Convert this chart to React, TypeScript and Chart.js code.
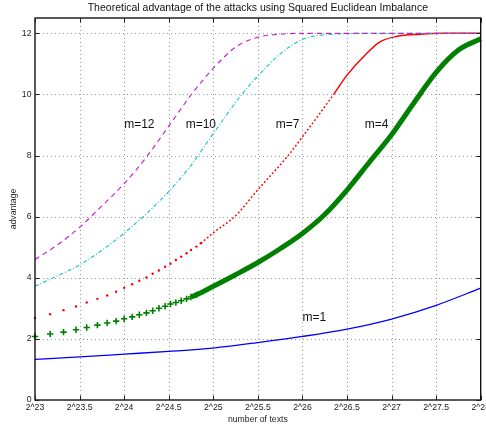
import React, { useEffect, useRef } from 'react';
import { Chart, registerables } from 'chart.js';

Chart.register(...registerables);

const titleText = 'Theoretical advantage of the attacks using Squared Euclidean Imbalance';
const xAxisTitle = 'number of texts';
const yAxisTitle = 'advantage';
const xTickValues = [23, 23.5, 24, 24.5, 25, 25.5, 26, 26.5, 27, 27.5, 28];
const yTickValues = [0, 2, 4, 6, 8, 10, 12];

// x values are log2(number of texts)
const m12X = [23.0, 23.25, 23.5, 23.75, 24.0, 24.25, 24.5, 24.75, 25.0, 25.25, 25.5, 25.75, 26.0, 27.0, 28.0];
const m12Y = [4.6, 5.07, 5.65, 6.35, 7.08, 7.95, 8.96, 9.98, 10.85, 11.55, 11.87, 11.97, 12.0, 12.0, 12.0];

const m10X = [23.0, 23.25, 23.5, 23.75, 24.0, 24.25, 24.5, 24.75, 25.0, 25.32, 25.5, 25.75, 26.0, 26.25, 26.5, 27.0, 28.0];
const m10Y = [3.72, 4.06, 4.42, 4.9, 5.46, 6.1, 6.82, 7.68, 8.72, 10.0, 10.6, 11.32, 11.8, 11.95, 11.99, 12.0, 12.0];

const m7X = [23.0, 23.17, 23.32, 23.46, 23.58, 23.7, 23.81, 23.91, 24.0, 24.09, 24.17, 24.25, 24.32, 24.39, 24.46, 24.52, 24.58, 24.64, 24.7, 24.75, 24.81, 24.86, 25.0, 25.24, 25.5, 25.84, 26.0, 26.35, 26.5, 26.72, 26.87, 27.06, 27.32, 27.6, 28.0];
const m7Y = [2.68, 2.81, 2.94, 3.06, 3.19, 3.31, 3.42, 3.54, 3.67, 3.79, 3.9, 4.01, 4.13, 4.24, 4.36, 4.46, 4.58, 4.69, 4.8, 4.91, 5.02, 5.13, 5.47, 6.0, 6.88, 8.0, 8.61, 10.0, 10.63, 11.34, 11.72, 11.9, 11.97, 12.0, 12.0];

const m4X = [23.0, 23.17, 23.32, 23.46, 23.58, 23.7, 23.81, 23.91, 24.0, 24.09, 24.17, 24.25, 24.32, 24.39, 24.46, 24.52, 24.58, 24.64, 24.7, 24.75, 24.81, 25.0, 25.25, 25.5, 25.75, 26.0, 26.25, 26.5, 26.75, 27.0, 27.25, 27.5, 27.75, 28.0];
const m4Y = [2.08, 2.16, 2.22, 2.3, 2.37, 2.45, 2.52, 2.58, 2.66, 2.72, 2.79, 2.85, 2.92, 3.0, 3.07, 3.14, 3.19, 3.25, 3.31, 3.37, 3.44, 3.72, 4.1, 4.5, 4.95, 5.45, 6.07, 6.87, 7.78, 8.68, 9.72, 10.72, 11.45, 11.82];

const m1X = [23.0, 23.5, 24.0, 24.5, 25.0, 25.5, 26.0, 26.5, 27.0, 27.5, 28.0];
const m1Y = [1.33, 1.41, 1.5, 1.59, 1.7, 1.88, 2.08, 2.32, 2.65, 3.1, 3.66];

const labelTexts = ['m=12', 'm=10', 'm=7', 'm=4', 'm=1'];
const labelX = [24.0, 24.69, 25.7, 26.7, 26.0];
const labelY = [9.0, 9.0, 9.0, 9.0, 2.68];

const FONT = "'Liberation Sans', Arial, Helvetica, sans-serif";
const M7_DOT_END = 24.87;
const M4_CROSS_END = 24.82;
const M4_BAND_START = 24.74;

const pts = (xs: number[], ys: number[]) => xs.map((x, i) => ({ x, y: ys[i] }));

const decor = {
  id: 'decor',
  beforeDatasetsDraw(chart: any) {
    const { ctx, chartArea: a, scales } = chart;
    ctx.save();
    ctx.strokeStyle = '#9a9a9a';
    ctx.lineWidth = 1;
    ctx.setLineDash([1, 3]);
    xTickValues.forEach((v) => {
      if (v === xTickValues[0] || v === xTickValues[xTickValues.length - 1]) return;
      const px = Math.round(scales.x.getPixelForValue(v)) + 0.5;
      ctx.beginPath();
      ctx.moveTo(px, a.top);
      ctx.lineTo(px, a.bottom);
      ctx.stroke();
    });
    yTickValues.forEach((v) => {
      if (v === 0) return;
      const py = Math.round(scales.y.getPixelForValue(v)) + 0.5;
      ctx.beginPath();
      ctx.moveTo(a.left, py);
      ctx.lineTo(a.right, py);
      ctx.stroke();
    });
    ctx.restore();
  },
  afterDatasetsDraw(chart: any) {
    const { ctx, chartArea: a, scales } = chart;
    ctx.save();
    ctx.setLineDash([]);
    ctx.strokeStyle = '#000';
    ctx.lineWidth = 1.3;
    ctx.strokeRect(a.left, a.top, a.right - a.left, a.bottom - a.top);
    ctx.lineWidth = 1;
    ctx.strokeStyle = '#222';
    const tl = 4.5;
    xTickValues.forEach((v) => {
      const px = Math.round(scales.x.getPixelForValue(v)) + 0.5;
      ctx.beginPath();
      ctx.moveTo(px, a.bottom);
      ctx.lineTo(px, a.bottom - tl);
      ctx.moveTo(px, a.top);
      ctx.lineTo(px, a.top + tl);
      ctx.stroke();
    });
    yTickValues.forEach((v) => {
      const py = Math.round(scales.y.getPixelForValue(v)) + 0.5;
      ctx.beginPath();
      ctx.moveTo(a.left, py);
      ctx.lineTo(a.left + tl, py);
      ctx.moveTo(a.right, py);
      ctx.lineTo(a.right - tl, py);
      ctx.stroke();
    });
    // curve labels
    ctx.fillStyle = '#111';
    ctx.font = `12px ${FONT}`;
    ctx.textAlign = 'left';
    ctx.textBaseline = 'middle';
    labelTexts.forEach((t, i) => {
      ctx.fillText(t, scales.x.getPixelForValue(labelX[i]), scales.y.getPixelForValue(labelY[i]));
    });
    // title
    ctx.font = `10.5px ${FONT}`;
    ctx.textAlign = 'center';
    ctx.fillText(titleText, (a.left + a.right) / 2, 8.5);
    ctx.restore();
  },
};

export default function App() {
  const ref = useRef<HTMLCanvasElement | null>(null);
  useEffect(() => {
    if (!ref.current) return;
    const chart = new Chart(ref.current, {
      type: 'line',
      data: {
        datasets: [
          {
            label: 'm=12',
            data: pts(m12X, m12Y),
            borderColor: '#cc22cc',
            borderWidth: 1.2,
            borderDash: [5, 4],
            pointRadius: 0,
            cubicInterpolationMode: 'monotone',
          },
          {
            label: 'm=10',
            data: pts(m10X, m10Y),
            borderColor: '#22c4c8',
            borderWidth: 1.2,
            borderDash: [4, 2, 1, 2],
            pointRadius: 0,
            cubicInterpolationMode: 'monotone',
          },
          {
            label: 'm=7',
            data: pts(m7X, m7Y),
            borderColor: '#ff0000',
            backgroundColor: '#ff0000',
            borderWidth: 1.5,
            clip: 4,
            pointRadius: (c: any) => (c.raw && c.raw.x <= M7_DOT_END ? 1.2 : 0),
            pointBorderWidth: 0,
            pointBackgroundColor: '#ff0000',
            cubicInterpolationMode: 'monotone',
            segment: {
              borderColor: (c: any) => (c.p0.parsed.x < M7_DOT_END - 0.02 ? 'rgba(0,0,0,0)' : '#ff0000'),
              borderDash: (c: any) => (c.p0.parsed.x >= 26.3 ? [] : [1.8, 2.2]),
            },
          },
          {
            label: 'm=4',
            data: pts(m4X, m4Y),
            borderColor: '#008000',
            backgroundColor: '#008000',
            borderWidth: 5,
            clip: 4,
            pointStyle: 'cross',
            pointRadius: (c: any) => (c.raw && c.raw.x <= M4_CROSS_END ? 3.2 : 0),
            pointBorderWidth: 1.6,
            pointBorderColor: '#008000',
            cubicInterpolationMode: 'monotone',
            segment: {
              borderColor: (c: any) => (c.p0.parsed.x < M4_BAND_START ? 'rgba(0,0,0,0)' : '#008000'),
            },
          },
          {
            label: 'm=1',
            data: pts(m1X, m1Y),
            borderColor: '#0000ff',
            borderWidth: 1.3,
            pointRadius: 0,
            cubicInterpolationMode: 'monotone',
          },
        ],
      },
      options: {
        animation: false,
        responsive: false,
        events: [],
        layout: { padding: { top: 18, right: 11, left: 0, bottom: 0 } },
        plugins: { legend: { display: false }, tooltip: { enabled: false }, title: { display: false } },
        scales: {
          x: {
            type: 'linear',
            min: 23,
            max: 28,
            grid: { display: false, drawTicks: false },
            border: { display: false },
            afterBuildTicks: (s: any) => {
              s.ticks = xTickValues.map((v) => ({ value: v }));
            },
            afterFit: (s: any) => {
              s.height = 25;
            },
            ticks: {
              autoSkip: false,
              maxRotation: 0,
              padding: 2,
              color: '#222',
              font: { family: FONT, size: 8.7 },
              callback: (v: any) => '2^' + v,
            },
            title: {
              display: true,
              text: xAxisTitle,
              color: '#222',
              font: { family: FONT, size: 8.7 },
              padding: { top: 0, bottom: 0 },
            },
          },
          y: {
            type: 'linear',
            min: 0,
            max: 12.5,
            grid: { display: false, drawTicks: false },
            border: { display: false },
            afterBuildTicks: (s: any) => {
              s.ticks = yTickValues.map((v) => ({ value: v }));
            },
            afterFit: (s: any) => {
              s.width = 35;
            },
            ticks: {
              padding: 3.5,
              color: '#222',
              font: { family: FONT, size: 8.7 },
              callback: (v: any) => String(v),
            },
            title: {
              display: true,
              text: yAxisTitle,
              color: '#222',
              font: { family: FONT, size: 8.7 },
              padding: { top: 8.5, bottom: 0 },
            },
          },
        },
      },
      plugins: [decor],
    } as any);
    return () => chart.destroy();
  }, []);
  return (
    <div style={{ position: 'fixed', left: 0, top: 0, width: 486, height: 425, overflow: 'hidden', background: '#fff' }}>
      <div style={{ width: 492, height: 425 }}>
        <canvas ref={ref} width={492} height={425} style={{ display: 'block' }} />
      </div>
    </div>
  );
}
